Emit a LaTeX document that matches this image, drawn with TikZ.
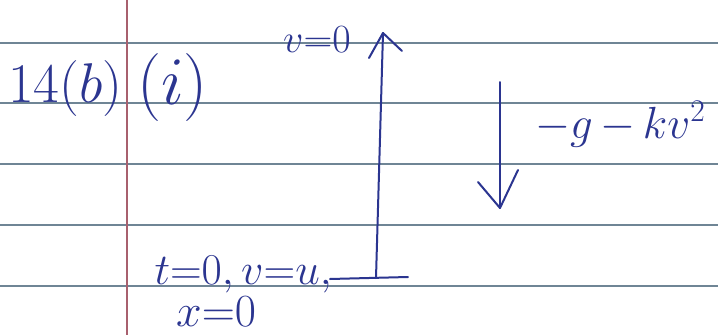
\documentclass[tikz,border=0pt]{standalone}
\usepackage{fix-cm}
\definecolor{ink}{HTML}{2B3590}
\definecolor{rule}{HTML}{6F8595}
\definecolor{margin}{HTML}{A8606E}
\tikzset{
  ruling/.style={draw=rule, line width=1.4pt},
  marginline/.style={draw=margin, line width=1.2pt},
  pen/.style={draw=ink, line width=2pt, line cap=round, line join=round},
  hand/.style={text=ink, inner sep=0pt, font=\fontsize{#1}{#1}\selectfont},
}
\begin{document}
\begin{tikzpicture}[x=1pt,y=-1pt]
\useasboundingbox (0,0) rectangle (718,335);
\fill[white] (0,0) rectangle (718,335);
% ruled lines
\foreach \yy in {43,103,164,225,286} \draw[ruling] (0,\yy) -- (718,\yy);
\draw[marginline] (127,0) -- (127,335);
% texts
\node[hand=56, anchor=base west] (title) at (8,102) {14$(b)$};
\node[hand=68, anchor=base west] (part) at (137,104) {$(i)$};
\node[hand=40, anchor=base west] (vtop) at (283,52) {$v{=}0$};
\node[hand=45, anchor=base west] (force) at (535,138) {$-g{\,-\,}kv^2$};
\node[hand=44, anchor=base east] (init) at (332,284) {$t{=}0, v{=}u,$};
\node[hand=46, anchor=base west] (xinit) at (176,326) {$x{=}0$};
% upward motion arrow
\coordinate (base) at (376,278);
\coordinate (top) at (383,33);
\coordinate (bl) at (330,279);
\coordinate (br) at (408,277);
\draw[pen] (bl) -- (br);
\draw[pen] (base) -- (top);
\coordinate (tl) at (369,58);
\coordinate (tr) at (402,51);
\draw[pen] (tl) -- (top) -- (tr);
% downward force arrow
\coordinate (dtop) at (500,82);
\coordinate (dbot) at (500,208);
\draw[pen] (dtop) -- (dbot);
\coordinate (dl) at (478,182);
\coordinate (dr) at (518,170);
\draw[pen] (dl) -- (dbot) -- (dr);
\end{tikzpicture}
\end{document}
